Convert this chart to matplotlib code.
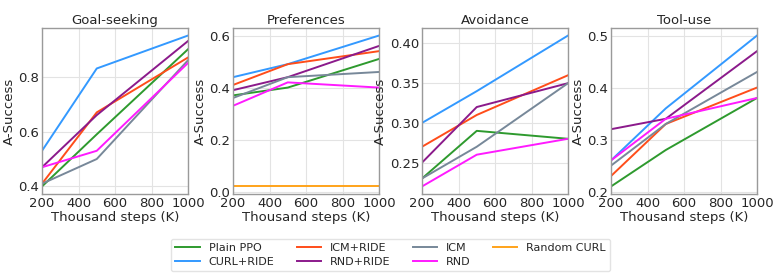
import matplotlib
matplotlib.use("Agg")
import matplotlib.pyplot as plt

# x positions (thousand steps)
steps = [200, 500, 1000]

tasks = ["Goal-seeking", "Preferences", "Avoidance", "Tool-use"]

# one list per method, one row per task (in order of `tasks`)
plain_ppo = [[0.40, 0.59, 0.90], [0.37, 0.40, 0.51], [0.23, 0.29, 0.28], [0.21, 0.28, 0.38]]
curl_ride = [[0.53, 0.83, 0.95], [0.44, 0.49, 0.60], [0.30, 0.34, 0.41], [0.26, 0.36, 0.50]]
icm_ride = [[0.41, 0.67, 0.87], [0.41, 0.49, 0.54], [0.27, 0.31, 0.36], [0.23, 0.33, 0.40]]
rnd_ride = [[0.47, 0.66, 0.93], [0.39, 0.44, 0.56], [0.25, 0.32, 0.35], [0.32, 0.34, 0.47]]
icm = [[0.41, 0.50, 0.86], [0.36, 0.44, 0.46], [0.23, 0.27, 0.35], [0.25, 0.33, 0.43]]
rnd = [[0.47, 0.53, 0.85], [0.33, 0.42, 0.40], [0.22, 0.26, 0.28], [0.26, 0.34, 0.38]]
random_curl = [None, [0.02, 0.02, 0.02], None, None]

methods = ["Plain PPO", "CURL+RIDE", "ICM+RIDE", "RND+RIDE", "ICM", "RND", "Random CURL"]
series = [plain_ppo, curl_ride, icm_ride, rnd_ride, icm, rnd, random_curl]
colors = ["#2e9a2e", "#3399ff", "#ff4d1a", "#8b1a8b", "#778899", "#ff1aff", "#ffa31a"]

TEXT = "#262626"
SPINE = "#9a9a9a"
GRID = "#e3e3e3"

fig = plt.figure(figsize=(7.81, 2.78), dpi=100)
lefts = [42, 233, 422, 611]
W, H = 781, 278

handles = {}
for i, task in enumerate(tasks):
    ax = fig.add_axes([lefts[i] / W, 1 - 194 / H, 146 / W, 166 / H])
    for name, data, c in zip(methods, series, colors):
        if data[i] is None:
            continue
        ln, = ax.plot(steps, data[i], color=c, lw=1.4)
        handles[name] = ln
    ax.set_xlim(200, 1000)
    ax.set_xticks([200, 400, 600, 800, 1000])
    ax.set_title(task, fontsize=9.5, color=TEXT, pad=3)
    ax.set_xlabel("Thousand steps (K)", fontsize=9.5, color=TEXT, labelpad=1)
    ax.set_ylabel("A-Success", fontsize=9.5, color=TEXT, labelpad=2)
    ax.tick_params(labelsize=9.5, colors=TEXT, length=0, pad=2)
    ax.grid(True, color=GRID, lw=0.8)
    for s in ax.spines.values():
        s.set_color(SPINE)
        s.set_linewidth(1.0)

ax_list = fig.axes
ax_list[2].set_yticks([0.25, 0.30, 0.35, 0.40])
ax_list[2].set_yticklabels(["0.25", "0.30", "0.35", "0.40"])

leg = fig.legend([handles[m] for m in methods], methods, loc="center",
                 bbox_to_anchor=(0.5, 0.083), ncol=4, fontsize=8,
                 frameon=True, handlelength=2.2, columnspacing=2.0,
                 labelspacing=0.3, borderpad=0.4)
leg.get_frame().set_edgecolor("#dddddd")
for t in leg.get_texts():
    t.set_color(TEXT)

fig.savefig("out.png", dpi=100)
